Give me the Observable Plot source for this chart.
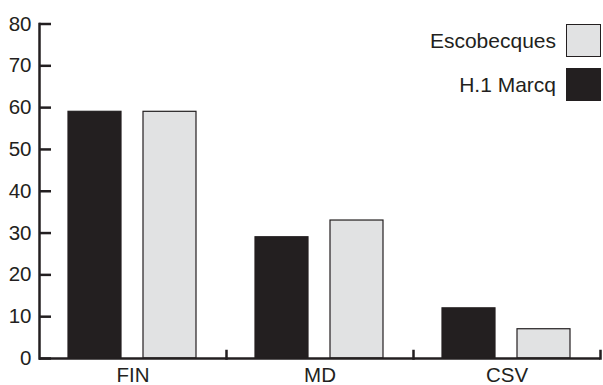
<!DOCTYPE html>
<html>
<head>
<meta charset="utf-8">
<script src="https://cdn.jsdelivr.net/npm/d3@7"></script>
<script src="https://cdn.jsdelivr.net/npm/@observablehq/plot@0.6"></script>
<style>
  html, body { margin: 0; padding: 0; background: #fff; }
  #wrap { position: relative; width: 603px; height: 385px; font-family: "Liberation Sans", Arial, sans-serif; color: #231f20; }
  #legend { position: absolute; right: 2px; top: 24px; display: flex; flex-direction: column; gap: 11px; }
  .item { display: flex; align-items: center; justify-content: flex-end; gap: 10px; font-size: 21px; height: 33px; }
  .sw { width: 35px; height: 33px; box-sizing: border-box; border: 1.5px solid #231f20; }
</style>
</head>
<body>
<div id="wrap"></div>
<script>
const categories = ["FIN", "MD", "CSV"];
const series = ["H.1 Marcq", "Escobecques"];
const marcqValues = [59, 29, 12];
const escobecquesValues = [59, 33, 7];
const yTicks = [0, 10, 20, 30, 40, 50, 60, 70, 80];
const legendOrder = ["Escobecques", "H.1 Marcq"];

const colors = {"H.1 Marcq": "#231f20", "Escobecques": "#e1e2e3"};
const ink = "#231f20";

const data = [];
categories.forEach((c, i) => {
  data.push({category: c, series: series[0], value: marcqValues[i]});
  data.push({category: c, series: series[1], value: escobecquesValues[i]});
});

const chart = Plot.plot({
  width: 603,
  height: 385,
  marginLeft: 38,
  marginRight: 2,
  marginTop: 23.5,
  marginBottom: 27,
  style: {fontFamily: "'Liberation Sans', Arial, sans-serif", fontSize: "20px", color: ink, background: "white"},
  fx: {domain: categories, padding: 0, axis: null},
  x: {domain: series, paddingInner: 0.29, paddingOuter: 0.38, axis: null},
  y: {domain: [0, 80], axis: null},
  marks: [
    Plot.barY(data, {
      fx: "category", x: "series", y: "value",
      fill: d => colors[d.series], stroke: ink, strokeWidth: 1.2
    }),
    Plot.ruleY([0], {stroke: ink, strokeWidth: 2.5}),
    Plot.frame({anchor: "left", facetAnchor: "left", stroke: ink, strokeWidth: 2.5}),
    Plot.frame({anchor: "right", insetTop: 327, stroke: ink, strokeWidth: 2.5}),
    Plot.tickY(yTicks, {y: d => d, facetAnchor: "left", insetRight: 175, stroke: ink, strokeWidth: 2.5}),
    Plot.axisY(yTicks, {anchor: "left", tickSize: 0, tickPadding: 8, fill: ink, fontSize: 20.5, label: null, tickFormat: d => String(d)}),
    Plot.axisFx({anchor: "bottom", tickSize: 0, tickPadding: 9, fontSize: 20.5, fill: ink, label: null})
  ]
});

const wrap = document.getElementById("wrap");
wrap.appendChild(chart);

const legend = document.createElement("div");
legend.id = "legend";
legendOrder.forEach(s => {
  const item = document.createElement("div");
  item.className = "item";
  const label = document.createElement("span");
  label.textContent = s;
  const sw = document.createElement("span");
  sw.className = "sw";
  sw.style.background = colors[s];
  item.appendChild(label);
  item.appendChild(sw);
  legend.appendChild(item);
});
wrap.appendChild(legend);
</script>
</body>
</html>
